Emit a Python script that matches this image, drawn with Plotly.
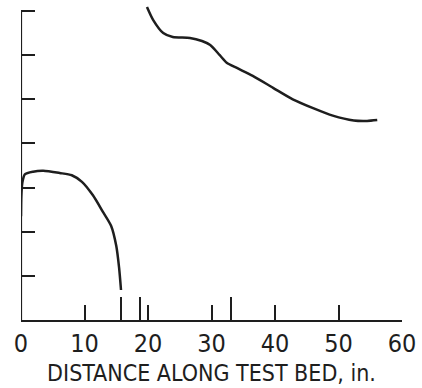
import plotly.graph_objects as go

# Lower curve (near the inlet)
lower_x = [0.0, 0.05, 0.2, 0.6, 1.9, 3.5, 6.1, 8.0, 9.6, 11.3, 12.9, 14.2, 15.0, 15.45, 15.75]
lower_y = [2.35, 2.8, 3.1, 3.3, 3.36, 3.38, 3.33, 3.28, 3.13, 2.83, 2.45, 2.13, 1.68, 1.18, 0.68]

# Upper curve (downstream)
upper_x = [19.84, 20.8, 22.4, 23.9, 26.6, 28.5, 29.8, 31.3, 32.4, 34.0, 36.5,
           39.7, 42.8, 46.0, 49.1, 52.4, 54.5, 56.1]
upper_y = [7.09, 6.80, 6.50, 6.41, 6.39, 6.32, 6.23, 6.00, 5.83, 5.71, 5.53,
           5.26, 5.00, 4.80, 4.63, 4.52, 4.51, 4.53]

x_ticks = [0, 10, 20, 30, 40, 50, 60]
x_tick_labels = ["0", "10", "20", "30", "40", "50", "60"]
station_marks = [15.7, 18.8, 33.0]
y_ticks = [1, 2, 3, 4, 5, 6, 7]

ink = "#1e1e1e"
font_family = "DejaVu Sans Condensed, Liberation Sans Narrow, sans-serif"

fig = go.Figure()
for xs, ys in [(lower_x, lower_y), (upper_x, upper_y)]:
    fig.add_trace(go.Scatter(
        x=xs, y=ys, mode="lines",
        line=dict(color=ink, width=2.5, shape="spline", smoothing=0.7),
        showlegend=False, hoverinfo="skip",
    ))

# Vertical axis line up to the top tick
fig.add_shape(type="line", xref="x", yref="y", x0=0, x1=0, y0=0, y1=max(y_ticks),
              line=dict(color=ink, width=2.2))

fig.update_layout(
    width=422, height=388,
    margin=dict(l=21, r=20, t=0, b=68),
    paper_bgcolor="white", plot_bgcolor="white",
    font=dict(family=font_family, color=ink),
    xaxis=dict(
        range=[0, 60], showgrid=False, zeroline=False,
        showline=True, linecolor=ink, linewidth=2.2,
        tickmode="array", tickvals=x_ticks, ticktext=x_tick_labels,
        ticks="inside", ticklen=15, tickwidth=2, tickcolor=ink,
        tickfont=dict(size=25, family=font_family, color=ink),
        ticklabelstandoff=0,
        minor=dict(tickmode="array", tickvals=station_marks, ticks="inside",
                   ticklen=23, tickwidth=2, tickcolor=ink, showgrid=False),
        title=dict(text="DISTANCE ALONG TEST BED, in.",
                   font=dict(size=23, family=font_family, color=ink), standoff=8),
    ),
    yaxis=dict(
        range=[0, 7.25], showgrid=False, zeroline=False, showline=False,
        tickmode="array", tickvals=y_ticks, showticklabels=False,
        ticks="inside", ticklen=14, tickwidth=2, tickcolor=ink,
    ),
)

fig.write_html("out.html")
